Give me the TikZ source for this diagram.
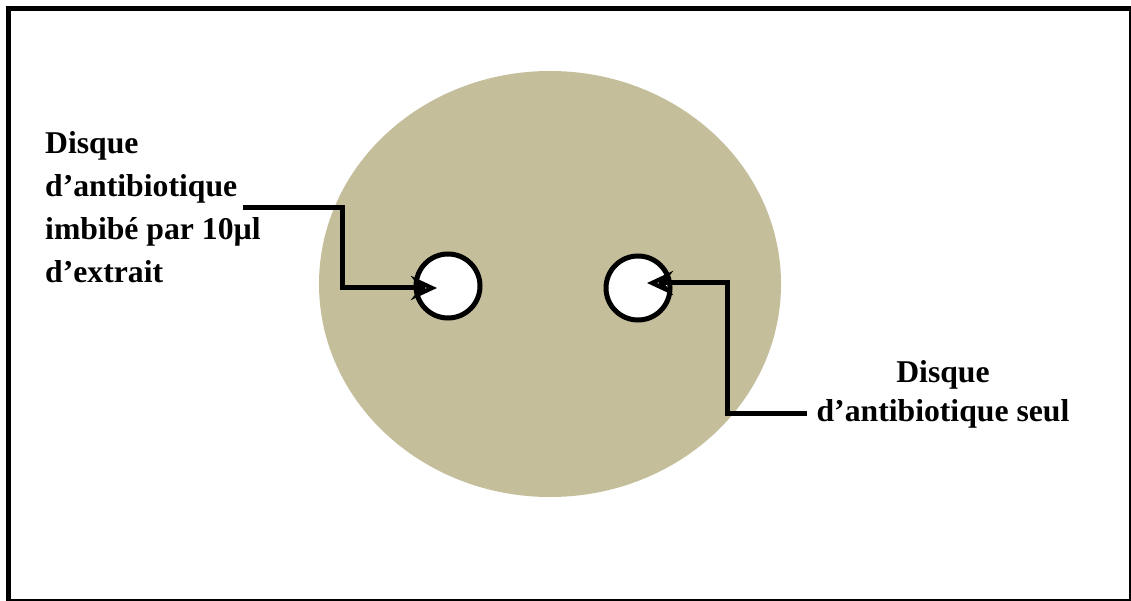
\documentclass[tikz,border=0pt]{standalone}
\usepackage{fontspec}
\setmainfont{Liberation Serif}
\usetikzlibrary{arrows.meta}
\definecolor{agar}{RGB}{196,190,154}
\tikzset{
  disc/.style={circle, draw=black, line width=5pt, fill=white, minimum size=64pt, inner sep=0pt},
  lbl/.style={font=\bfseries\fontsize{31.7}{43}\selectfont, inner sep=0pt},
  pointer/.style={line width=5pt, line join=miter, -{Stealth[length=26pt, width=24pt, open, fill=white, inset=9pt]}},
}
\begin{document}
\begin{tikzpicture}[x=1pt, y=-1pt]
\useasboundingbox (0,0) rectangle (1131,601);
\fill[white] (0,0) rectangle (1131,601);
\draw[line width=5pt] (8.5,8.5) rectangle (1131,601);
\fill[agar] (550,284) ellipse [x radius=231, y radius=213];
\node[disc] (d1) at (448,286) {};
\node[disc] (d2) at (638,288) {};
\node[lbl, align=left, anchor=north west] (t1) at (45,131) {Disque\\d’antibiotique\\imbibé par 10µl\\d’extrait};
\node[lbl, align=center, anchor=north, font=\bfseries\fontsize{31.7}{39}\selectfont] (t2) at (943,360) {Disque\\d’antibiotique seul};
\coordinate (a0) at (243,208);
\coordinate (a1) at (342,208);
\coordinate (a2) at (342,288);
\coordinate (a3) at (437,288);
\coordinate (b0) at (807,413);
\coordinate (b1) at (727,413);
\coordinate (b2) at (727,283);
\coordinate (b3) at (647,283);
\draw[pointer] (a0) -- (a1) -- (a2) -- (a3);
\draw[pointer] (b0) -- (b1) -- (b2) -- (b3);
\end{tikzpicture}
\end{document}
